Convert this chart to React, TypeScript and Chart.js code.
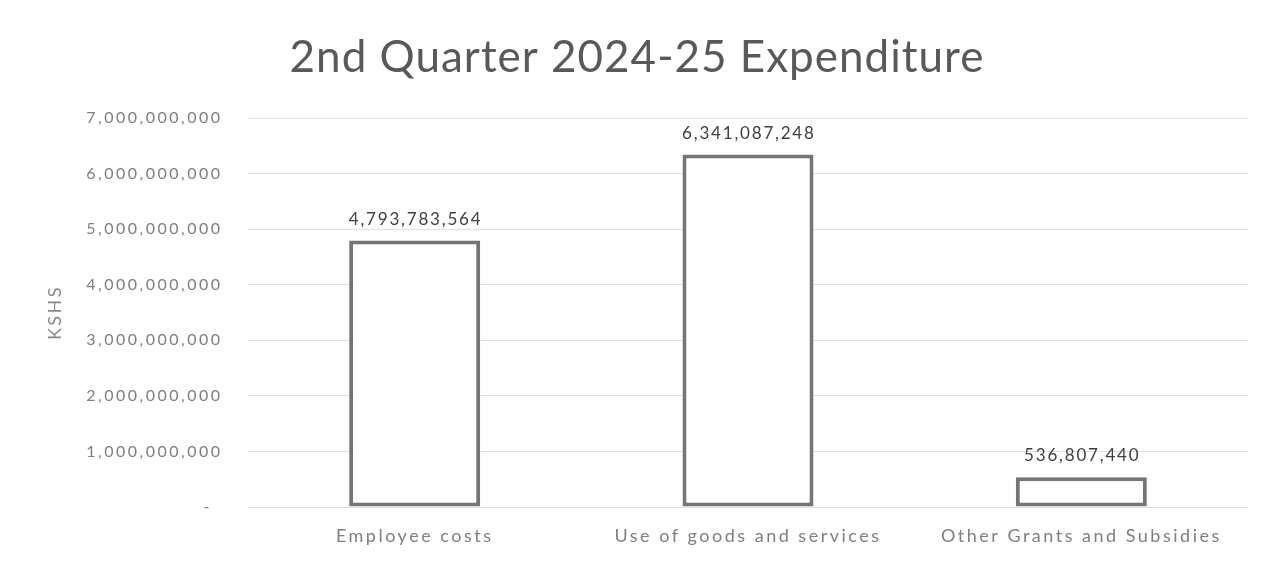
import React, { useEffect, useRef } from "react";
import { Chart, registerables } from "chart.js";

Chart.register(...registerables);

const chartTitle = "2nd Quarter 2024-25 Expenditure";
const yAxisTitle = "KSHS";
const categories = ["Employee costs", "Use of goods and services", "Other Grants and Subsidies"];
const expenditure = [4793783564, 6341087248, 536807440];
const yMin = 0;
const yMax = 7000000000;
const yStep = 1000000000;

const FONT = "Lato, 'Open Sans', sans-serif";
const SCALE_SPACING = "2.5px";

const fmt = (v: number) => Math.round(v).toLocaleString("en-US");

const spacingPlugin = {
  id: "spacing",
  beforeUpdate(chart: any) {
    chart.ctx.letterSpacing = SCALE_SPACING;
  },
  beforeLayout(chart: any) {
    chart.ctx.letterSpacing = SCALE_SPACING;
  },
  beforeDraw(chart: any) {
    chart.ctx.letterSpacing = SCALE_SPACING;
  },
};

const labelPlugin = {
  id: "barLabels",
  afterDatasetsDraw(chart: any) {
    const ctx = chart.ctx;
    const meta = chart.getDatasetMeta(0);
    const data = chart.data.datasets[0].data as number[];
    ctx.save();
    ctx.letterSpacing = "1.8px";
    ctx.font = `17px ${FONT}`;
    ctx.fillStyle = "#404040";
    ctx.textAlign = "center";
    ctx.textBaseline = "alphabetic";
    meta.data.forEach((bar: any, i: number) => {
      ctx.fillText(fmt(data[i]), bar.x + 0.9, bar.y - 16);
    });
    ctx.restore();
  },
  afterDraw(chart: any) {
    const ctx = chart.ctx;
    ctx.save();
    ctx.letterSpacing = "1px";
    ctx.font = `44px ${FONT}`;
    ctx.fillStyle = "#595959";
    ctx.textAlign = "center";
    ctx.textBaseline = "alphabetic";
    ctx.fillText(chartTitle, chart.width / 2 + 4.5, 72);
    ctx.restore();
  },
};

export default function App() {
  const ref = useRef<HTMLCanvasElement | null>(null);

  useEffect(() => {
    if (!ref.current) return;
    const chart = new Chart(ref.current, {
      type: "bar",
      data: {
        labels: categories,
        datasets: [
          {
            data: expenditure,
            backgroundColor: "#ffffff",
            borderColor: "#757575",
            borderWidth: 4,
            borderSkipped: false,
            categoryPercentage: 1,
            barPercentage: 0.393,
          },
        ],
      },
      options: {
        animation: false,
        responsive: false,
        layout: { padding: { top: 118, left: 0, right: 17, bottom: 0 } },
        plugins: {
          legend: { display: false },
          title: { display: false },
          tooltip: { enabled: false },
        },
        scales: {
          x: {
            grid: { display: false, drawTicks: false },
            border: { display: false },
            ticks: {
              padding: 18,
              color: "#7f7f7f",
              font: { family: FONT, size: 18 },
              maxRotation: 0,
            },
            afterFit(scale: any) {
              scale.height = 55;
            },
          },
          y: {
            min: yMin,
            max: yMax,
            grid: { color: "#e0e0e0", lineWidth: 1, drawTicks: false },
            border: { display: false },
            ticks: {
              stepSize: yStep,
              padding: 25.5,
              color: "#7f7f7f",
              font: { family: FONT, size: 16 },
              callback: (v: any) => (Number(v) === 0 ? "-\u2002" : fmt(Number(v))),
            },
            title: {
              display: true,
              text: yAxisTitle,
              color: "#8a8a8a",
              font: { family: FONT, size: 18 },
              padding: { top: 44, bottom: 0 },
            },
            afterFit(scale: any) {
              scale.width = 248;
            },
          },
        },
      },
      plugins: [spacingPlugin, labelPlugin],
    });
    return () => chart.destroy();
  }, []);

  return (
    <div style={{ position: "absolute", left: 0, top: 0, width: 1265, height: 562, background: "#ffffff" }}>
      <canvas ref={ref} width={1265} height={562} style={{ display: "block", width: 1265, height: 562 }} />
    </div>
  );
}
